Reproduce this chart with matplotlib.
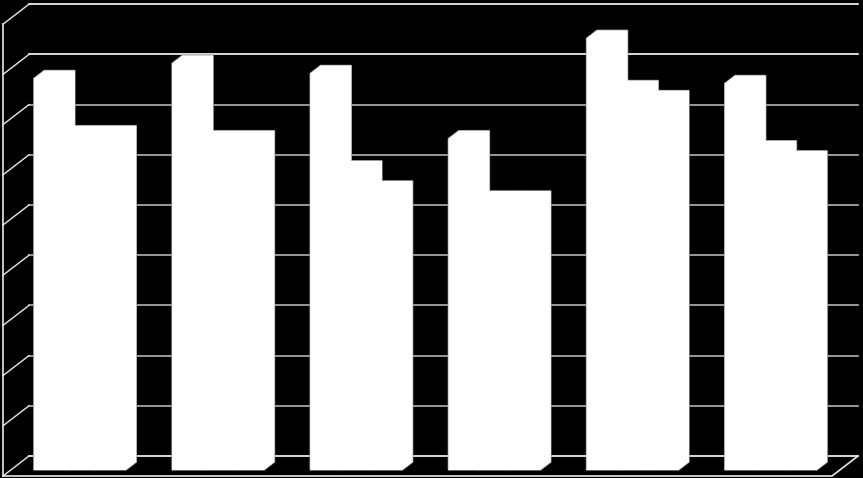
import matplotlib
matplotlib.use("Agg")
import matplotlib.pyplot as plt
from matplotlib.patches import Polygon

# values per category
series_a = [7.8, 8.1, 7.9, 6.6, 8.6, 7.7]
series_b = [6.7, 6.6, 6.0, 5.4, 7.6, 6.4]
series_c = [6.7, 6.6, 5.6, 5.4, 7.4, 6.2]
grid_levels = list(range(10))

# 3d look: offset of the back wall from the front, in data units
depth_x = 26 / 138.17
depth_y = 20 / 50.2
n_cat = len(series_a)
bar_w = 2 / 9
gap = 1 / 6

fig = plt.figure(figsize=(8.63, 4.78), dpi=100, facecolor="black")
ax = fig.add_axes([0, 0, 1, 1])
ax.set_facecolor("black")
ax.set_xlim(-3 / 138.17, 860 / 138.17)
ax.set_ylim(-2 / 50.2, 476 / 50.2)
ax.axis("off")

# back wall grid and left wall diagonals
for lev in grid_levels:
    col = "white" if lev in (0, 8, 9) else "#b4b4b4"
    ax.plot([depth_x, n_cat + depth_x], [lev + depth_y] * 2, color=col, lw=1.2, zorder=1)
    ax.plot([0, depth_x], [lev, lev + depth_y], color="#e8e8e8", lw=1, zorder=1)

# left wall and floor
ax.plot([0, 0], [0, grid_levels[-1]], color="#e8e8e8", lw=1.2, zorder=1)
ax.plot([0, n_cat, n_cat + depth_x], [0, 0, depth_y], color="#e8e8e8", lw=1.2, zorder=1)


def bar_outline(x, val):
    # silhouette of one box standing between 30% and 70% of the depth
    x0 = x + 0.3 * depth_x
    y0 = 0.3 * depth_y
    dx = 0.4 * depth_x
    dy = 0.4 * depth_y
    return [
        (x0, y0),
        (x0 + bar_w, y0),
        (x0 + bar_w + dx, y0 + dy),
        (x0 + bar_w + dx, y0 + dy + val),
        (x0 + dx, y0 + dy + val),
        (x0, y0 + val),
    ]


# grey outline first, white fill on top, so only the outer edge stays visible
for i in range(n_cat):
    for j, vals in enumerate([series_a, series_b, series_c]):
        pts = bar_outline(i + gap + j * bar_w, vals[i])
        ax.add_patch(Polygon(pts, closed=True, fc="white", ec="#8c8c8c", lw=1, zorder=2))
        ax.add_patch(Polygon(pts, closed=True, fc="white", ec="none", zorder=3))

fig.savefig("out.png", dpi=100, facecolor="black")
